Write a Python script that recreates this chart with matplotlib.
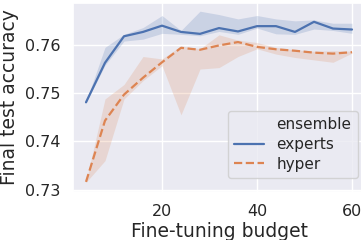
import matplotlib
matplotlib.use("Agg")
import matplotlib.pyplot as plt
from matplotlib.lines import Line2D
import seaborn as sns

budget = [4, 8, 12, 16, 20, 24, 28, 32, 36, 40, 44, 48, 52, 56, 60]

experts = [0.7481, 0.7563, 0.7618, 0.7627, 0.7640, 0.7627, 0.7623, 0.7635,
           0.7628, 0.7639, 0.7639, 0.7627, 0.7648, 0.7634, 0.7632]
experts_lo = [0.7480, 0.7558, 0.7608, 0.7612, 0.7624, 0.7622, 0.7619, 0.7628,
              0.7622, 0.7635, 0.7623, 0.7622, 0.7633, 0.7630, 0.7624]
experts_hi = [0.7482, 0.7595, 0.7622, 0.7636, 0.7661, 0.7630, 0.7670, 0.7663,
              0.7654, 0.7661, 0.7654, 0.7650, 0.7652, 0.7645, 0.7645]

hyper = [0.7316, 0.7443, 0.7497, 0.7532, 0.7564, 0.7594, 0.7590, 0.7599,
         0.7606, 0.7596, 0.7591, 0.7588, 0.7584, 0.7582, 0.7585]
hyper_lo = [0.7315, 0.7360, 0.7488, 0.7526, 0.7557, 0.7455, 0.7550, 0.7553,
            0.7576, 0.7592, 0.7581, 0.7574, 0.7569, 0.7564, 0.7583]
hyper_hi = [0.7317, 0.7488, 0.7518, 0.7576, 0.7571, 0.7598, 0.7592, 0.7621,
            0.7610, 0.7605, 0.7595, 0.7590, 0.7587, 0.7588, 0.7587]

sns.set_theme(style="darkgrid")
plt.rcParams["font.family"] = ["DejaVu Sans"]
blue, orange = sns.color_palette("deep")[0], sns.color_palette("deep")[1]

fig = plt.figure(figsize=(3.61, 2.40), dpi=100)
ax = fig.add_axes([0.2014, 0.2, 0.8105, 0.7875])

ax.fill_between(budget, experts_lo, experts_hi, color=blue, alpha=0.2, lw=0)
ax.fill_between(budget, hyper_lo, hyper_hi, color=orange, alpha=0.2, lw=0)
ax.plot(budget, experts, color=blue, lw=1.6)
ax.plot(budget, hyper, color=orange, lw=1.6, dashes=(3.7, 1.6))

ax.set_xlim(1.2, 62.8)
ax.set_ylim(0.7295, 0.7687)
ax.set_xticks([20, 40, 60])
ax.set_yticks([0.73, 0.74, 0.75, 0.76])
ax.tick_params(labelsize=11.5, pad=3)
ax.set_xlabel("Fine-tuning budget", fontsize=13.5, labelpad=2)
ax.set_ylabel("Final test accuracy", fontsize=13.5, labelpad=4)

handles = [Line2D([], [], color="none"),
           Line2D([], [], color=blue, lw=1.6),
           Line2D([], [], color=orange, lw=1.6, dashes=(3.7, 1.6))]
ax.legend(handles, ["ensemble", "experts", "hyper"], fontsize=11,
          loc="lower right", bbox_to_anchor=(1.0, 0.035), handlelength=2.0,
          borderpad=0.4, labelspacing=0.3)

fig.savefig("out.png", dpi=100)
